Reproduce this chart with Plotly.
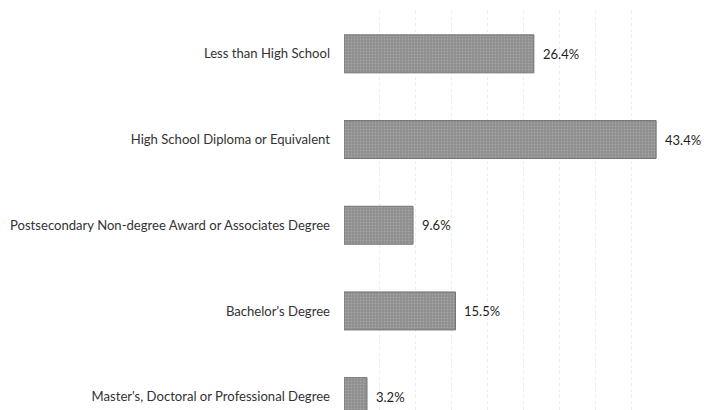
import plotly.graph_objects as go

categories = [
    "Less than High School",
    "High School Diploma or Equivalent",
    "Postsecondary Non-degree Award or Associates Degree",
    "Bachelor's Degree",
    "Master's, Doctoral or Professional Degree",
]
values = [26.4, 43.4, 9.6, 15.5, 3.2]
value_labels = ["26.4%", "43.4%", "9.6%", "15.5%", "3.2%"]

FONT = "Lato"

fig = go.Figure()
fig.add_trace(go.Bar(
    x=values,
    y=categories,
    orientation="h",
    marker=dict(
        color="#929292",
        line=dict(color="#747474", width=1),
        pattern=dict(shape=".", fgcolor="#bdbdbd", bgcolor="#8c8c8c", size=3, solidity=0.35),
    ),
    hoverinfo="skip",
    cliponaxis=False,
))

for v, c, t in zip(values, categories, value_labels):
    fig.add_annotation(
        x=v, y=c, text=t, showarrow=False,
        xanchor="left", yanchor="middle", xshift=7,
        font=dict(family=FONT, size=13, color="#1e1e1e"),
    )

fig.update_layout(
    width=706, height=410,
    margin=dict(l=344, r=38, t=11, b=0, pad=0),
    paper_bgcolor="white", plot_bgcolor="white",
    bargap=0.557,
    showlegend=False,
    font=dict(family=FONT, size=13, color="#333333"),
    xaxis=dict(
        range=[0, 45.05], dtick=5, tick0=0,
        showticklabels=False, ticks="",
        showgrid=True, gridcolor="#ececec", griddash="dot", gridwidth=1,
        zeroline=False, showline=False,
    ),
    yaxis=dict(
        categoryorder="array", categoryarray=categories,
        range=[4.156, -0.5],
        showgrid=False, zeroline=False, showline=False,
        ticks="", ticklabelstandoff=13,
        tickfont=dict(family=FONT, size=13.1, color="#333333"),
    ),
)

fig.write_html(
    "out.html",
    config={"displayModeBar": False},
    post_script="document.body.style.margin='0';document.body.style.overflow='hidden';",
)
